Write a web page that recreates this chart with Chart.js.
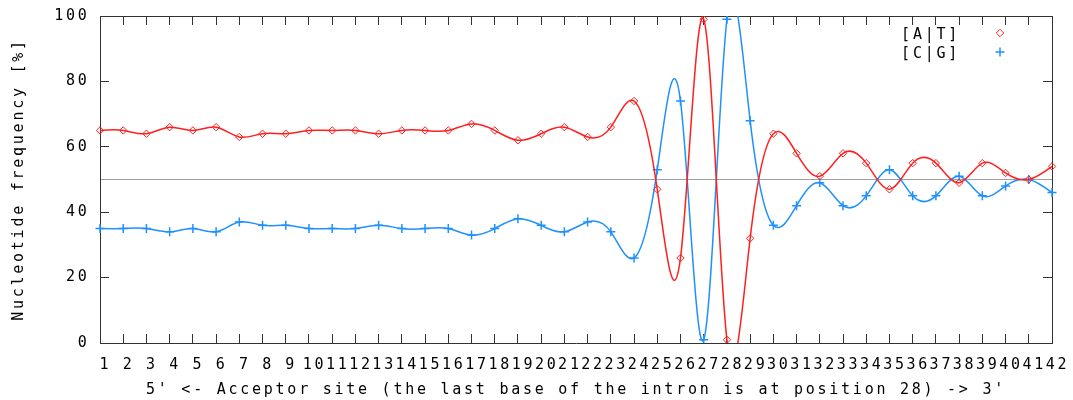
<!DOCTYPE html>
<html>
<head>
<meta charset="utf-8">
<script src="https://cdn.jsdelivr.net/npm/chart.js@4/dist/chart.umd.min.js"></script>
<style>
html,body{margin:0;padding:0;background:#fff;}
#wrap{width:1073px;height:400px;position:relative;}
</style>
</head>
<body>
<div id="wrap"><canvas id="c"></canvas></div>
<script>
// ---- data ----
const positions = ['1','2','3','4','5','6','7','8','9','10','11','12','13','14','15','16','17','18','19','20','21',
                   '22','23','24','25','26','27','28','29','30','31','32','33','34','35','36','37','38','39','40','41','42'];
const atValues = [65,65,64,66,65,66,63,64,64,65,65,65,64,65,65,65,67,65,62,64,66,
                  63,66,74,47,26,99,1,32,64,58,51,58,55,47,55,55,49,55,52,50,54];
const cgValues = [35,35,35,34,35,34,37,36,36,35,35,35,36,35,35,35,33,35,38,36,34,
                  37,34,26,53,74,1,99,68,36,42,49,42,45,53,45,45,51,45,48,50,46];
const yTickValues = [0,20,40,60,80,100];
const seriesNames = ['[A|T]','[C|G]'];
const xTitle = "5' <- Acceptor site (the last base of the intron is at position 28) -> 3'";
const yTitle = 'Nucleotide frequency [%]';
const baselineValue = 50;

// ---- style ----
const FAM = "'DejaVu Sans Mono', 'Liberation Mono', monospace";
const FS = 15;
const LS = '2.75px';
const RED = '#ff1f1f';
const BLUE = '#1e90ff';
const FRAME = '#333333';
const TICKLEN = -9;

const spacingPlugin = {
  id: 'spacing',
  beforeDraw(chart) { chart.ctx.letterSpacing = LS; }
};

// natural cubic spline (gnuplot "smooth csplines") applied to Chart.js bezier control points
const csplinePlugin = {
  id: 'cspline',
  beforeDatasetDraw(chart, args) {
    const meta = args.meta;
    const line = meta.dataset;
    if (!line || !line.points) return;
    line.updateControlPoints(chart.chartArea, meta.iScale.axis);
    const pts = line.points;
    const n = pts.length;
    if (n < 3) return;
    const xs = pts.map(p => p.x), ys = pts.map(p => p.y);
    const M = new Array(n).fill(0);
    const a = [], b = [], c = [], r = [];
    for (let i = 1; i < n - 1; i++) {
      const h0 = xs[i] - xs[i-1], h1 = xs[i+1] - xs[i];
      a.push(h0); b.push(2 * (h0 + h1)); c.push(h1);
      r.push(6 * ((ys[i+1] - ys[i]) / h1 - (ys[i] - ys[i-1]) / h0));
    }
    const m = a.length;
    for (let i = 1; i < m; i++) {
      const w = a[i] / b[i-1];
      b[i] -= w * c[i-1];
      r[i] -= w * r[i-1];
    }
    const sol = new Array(m);
    sol[m-1] = r[m-1] / b[m-1];
    for (let i = m - 2; i >= 0; i--) sol[i] = (r[i] - c[i] * sol[i+1]) / b[i];
    for (let i = 0; i < m; i++) M[i+1] = sol[i];
    for (let i = 0; i < n; i++) {
      let d;
      if (i < n - 1) {
        const h = xs[i+1] - xs[i];
        d = (ys[i+1] - ys[i]) / h - h * (2 * M[i] + M[i+1]) / 6;
      } else {
        const h = xs[i] - xs[i-1];
        d = (ys[i] - ys[i-1]) / h + h * (M[i-1] + 2 * M[i]) / 6;
      }
      const hp = i > 0 ? xs[i] - xs[i-1] : 0;
      const hn = i < n - 1 ? xs[i+1] - xs[i] : 0;
      pts[i].cp1x = xs[i] - hp / 3; pts[i].cp1y = ys[i] - d * hp / 3;
      pts[i].cp2x = xs[i] + hn / 3; pts[i].cp2y = ys[i] + d * hn / 3;
    }
  }
};

const keyPlugin = {
  id: 'gnuplotKey',
  afterDraw(chart) {
    const ctx = chart.ctx;
    ctx.save();
    ctx.letterSpacing = LS;
    ctx.font = FS + 'px ' + FAM;
    ctx.textAlign = 'right';
    ctx.textBaseline = 'middle';
    chart.data.datasets.forEach((ds, i) => {
      const y = 33 + i * 19;
      ctx.fillStyle = '#000';
      ctx.fillText(ds.label, 960, y + 2);
      ctx.strokeStyle = ds.borderColor;
      ctx.fillStyle = 'rgba(0,0,0,0)';
      ctx.lineWidth = ds.pointBorderWidth;
      if (Chart.helpers && Chart.helpers.drawPoint) {
        Chart.helpers.drawPoint(ctx, {pointStyle: ds.pointStyle, radius: ds.pointRadius, borderWidth: ds.pointBorderWidth, rotation: 0}, 1000, y);
      }
    });
    ctx.restore();
  }
};

const font = {family: FAM, size: FS};
function noPad(s) { s.paddingLeft = 0; s.paddingRight = 0; s.paddingTop = 0; s.paddingBottom = 0; }

new Chart(document.getElementById('c'), {
  type: 'line',
  data: {
    labels: positions,
    datasets: [
      {
        label: seriesNames[0], data: atValues,
        borderColor: RED, borderWidth: 1.5, tension: 0.5,
        pointStyle: 'rectRot', pointRadius: 3.7, pointBorderWidth: 1,
        pointBorderColor: RED, pointBackgroundColor: 'rgba(255,255,255,0)',
        fill: false
      },
      {
        label: seriesNames[1], data: cgValues,
        borderColor: BLUE, borderWidth: 1.5, tension: 0.5,
        pointStyle: 'cross', pointRadius: 4.5, pointBorderWidth: 1.5,
        pointBorderColor: BLUE, pointBackgroundColor: BLUE,
        fill: false
      }
    ]
  },
  options: {
    responsive: true,
    maintainAspectRatio: false,
    animation: false,
    events: [],
    layout: {padding: 0},
    elements: {line: {capBezierPoints: false}},
    plugins: {legend: {display: false}, tooltip: {enabled: false}},
    scales: {
      x: {
        type: 'category', position: 'bottom', offset: false,
        grid: {drawOnChartArea: false, drawTicks: true, tickLength: TICKLEN, color: FRAME, lineWidth: 1},
        border: {display: true, color: FRAME, width: 1},
        ticks: {autoSkip: false, maxRotation: 0, minRotation: 0, color: '#000', font, padding: 22, labelOffset: 5.5},
        title: {display: true, text: xTitle, color: '#000', font, padding: {top: 0, bottom: 1}},
        afterFit(s) { s.height = 57; noPad(s); }
      },
      x2: {
        type: 'category', position: 'top', offset: false, labels: positions,
        grid: {drawOnChartArea: false, drawTicks: true, tickLength: TICKLEN, color: FRAME, lineWidth: 1},
        border: {display: true, color: FRAME, width: 1},
        ticks: {display: false, autoSkip: false},
        afterFit(s) { s.height = 16; noPad(s); }
      },
      y: {
        type: 'linear', position: 'left', min: 0, max: 100,
        afterBuildTicks(s) { s.ticks = yTickValues.map(v => ({value: v})); },
        grid: {drawOnChartArea: false, drawTicks: true, tickLength: TICKLEN, color: FRAME, lineWidth: 1},
        border: {display: true, color: FRAME, width: 1},
        ticks: {color: '#000', font, padding: 19.5},
        title: {display: true, text: yTitle, color: '#000', font, padding: {top: 10, bottom: 0}},
        afterFit(s) { s.width = 100; noPad(s); }
      },
      y2: {
        type: 'linear', position: 'right', min: 0, max: 100,
        afterBuildTicks(s) { s.ticks = yTickValues.map(v => ({value: v})); },
        grid: {drawOnChartArea: false, drawTicks: true, tickLength: TICKLEN, color: FRAME, lineWidth: 1},
        border: {display: true, color: FRAME, width: 1},
        ticks: {display: false},
        afterFit(s) { s.width = 21; noPad(s); }
      },
      yRef: {
        type: 'linear', position: 'right', min: 0, max: 100,
        afterBuildTicks(s) { s.ticks = [{value: baselineValue}]; },
        grid: {drawOnChartArea: true, drawTicks: false, color: '#a0a0a0', lineWidth: 1},
        border: {display: false},
        ticks: {display: false},
        afterFit(s) { s.width = 0; noPad(s); }
      }
    }
  },
  plugins: [spacingPlugin, csplinePlugin, keyPlugin]
});
</script>
</body>
</html>
